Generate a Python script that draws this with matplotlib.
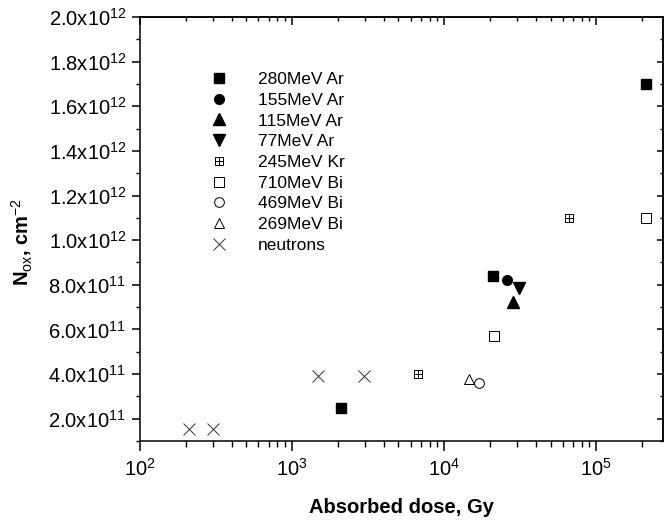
import numpy as np
import matplotlib as mpl
mpl.use("Agg")
import matplotlib.pyplot as plt
from matplotlib.path import Path
from matplotlib.ticker import FixedLocator, MultipleLocator, FuncFormatter, LogLocator, NullFormatter

mpl.rcParams.update({
    'font.family': ['Liberation Sans', 'DejaVu Sans'],
    'mathtext.fontset': 'custom',
    'mathtext.rm': 'Liberation Sans',
    'mathtext.it': 'Liberation Sans:italic',
    'mathtext.bf': 'Liberation Sans:bold',
    'font.size': 12,
})

# data
ar280_x = [2100, 21000, 2.12e5]
ar280_y = [2.5e11, 8.4e11, 1.70e12]
ar155_x = [26000]
ar155_y = [8.2e11]
ar115_x = [28300]
ar115_y = [7.25e11]
ar77_x = [31100]
ar77_y = [7.85e11]
kr245_x = [6700, 66000]
kr245_y = [4.0e11, 1.1e12]
bi710_x = [21200, 2.12e5]
bi710_y = [5.7e11, 1.1e12]
bi469_x = [16800]
bi469_y = [3.6e11]
bi269_x = [14600]
bi269_y = [3.8e11]
neut_x = [210, 300, 1480, 2980]
neut_y = [1.55e11, 1.55e11, 3.9e11, 3.9e11]

y_ticks = [2e11, 4e11, 6e11, 8e11, 1e12, 1.2e12, 1.4e12, 1.6e12, 1.8e12, 2.0e12]

# square with a cross inside
boxplus = Path(
    [(-1, -1), (1, -1), (1, 1), (-1, 1), (-1, -1),
     (-1, 0), (1, 0), (0, -1), (0, 1)],
    [Path.MOVETO, Path.LINETO, Path.LINETO, Path.LINETO, Path.CLOSEPOLY,
     Path.MOVETO, Path.LINETO, Path.MOVETO, Path.LINETO])

fig = plt.figure(figsize=(6.64, 5.2), dpi=100)
ax = fig.add_axes([140 / 664, 79 / 520, 523 / 664, 424 / 520])

k = 'black'
ax.plot(ar280_x, ar280_y, 's', ms=6.5, color=k, ls='none', label='280MeV Ar')
ax.plot(ar155_x, ar155_y, 'o', ms=7, color=k, ls='none', label='155MeV Ar')
ax.plot(ar115_x, ar115_y, '^', ms=8.5, color=k, ls='none', label='115MeV Ar')
ax.plot(ar77_x, ar77_y, 'v', ms=8.5, color=k, ls='none', label='77MeV Ar')
ax.plot(kr245_x, kr245_y, marker=boxplus, ms=6, mfc='none', mec=k, mew=0.7, ls='none', label='245MeV Kr')
ax.plot(bi710_x, bi710_y, 's', ms=6.5, mfc='none', mec=k, mew=0.7, ls='none', label='710MeV Bi')
ax.plot(bi469_x, bi469_y, 'o', ms=7, mfc='none', mec=k, mew=0.7, ls='none', label='469MeV Bi')
ax.plot(bi269_x, bi269_y, '^', ms=7.5, mfc='none', mec=k, mew=0.7, ls='none', label='269MeV Bi')
ax.plot(neut_x, neut_y, 'x', ms=8, color='#333333', mew=0.7, ls='none', label='neutrons')

ax.set_xscale('log')
ax.set_xlim(100, 2.74e5)
ax.set_ylim(1e11, 2e12)

ax.yaxis.set_major_locator(FixedLocator(y_ticks))
ax.yaxis.set_minor_locator(MultipleLocator(1e11))


def yfmt(v, pos):
    e = int(np.floor(np.log10(v)))
    return f"{v / 10**e:.1f}x10$^{{{e}}}$"


ax.yaxis.set_major_formatter(FuncFormatter(yfmt))
ax.xaxis.set_major_locator(LogLocator(base=10, numticks=10))
ax.xaxis.set_minor_locator(LogLocator(base=10, subs=np.arange(2, 10), numticks=20))
ax.xaxis.set_major_formatter(FuncFormatter(lambda v, p: f"10$^{{{int(round(np.log10(v)))}}}$"))
ax.xaxis.set_minor_formatter(NullFormatter())

for s in ax.spines.values():
    s.set_linewidth(1.1)

ax.tick_params(axis='both', which='major', direction='out', width=1.1, labelsize=14.5)
ax.tick_params(axis='y', which='major', length=6, pad=4)
ax.tick_params(axis='y', which='minor', length=3, width=1.0)
ax.tick_params(axis='x', which='major', length=7, pad=5)
ax.tick_params(axis='x', which='minor', length=4, width=1.0)

# mirrored ticks on top and right, pointing inward
top = ax.secondary_xaxis('top')
top.xaxis.set_major_locator(LogLocator(base=10, numticks=10))
top.xaxis.set_minor_locator(LogLocator(base=10, subs=np.arange(2, 10), numticks=20))
top.tick_params(which='major', direction='in', length=6, width=1.1, labeltop=False)
top.tick_params(which='minor', direction='in', length=3, width=1.0)
top.spines['top'].set_linewidth(1.1)

right = ax.secondary_yaxis('right')
right.yaxis.set_major_locator(FixedLocator(y_ticks))
right.yaxis.set_minor_locator(MultipleLocator(1e11))
right.tick_params(which='major', direction='in', length=4, width=1.1, labelright=False)
right.tick_params(which='minor', direction='in', length=2, width=1.0)
right.spines['right'].set_linewidth(1.1)

ax.set_xlabel('Absorbed dose, Gy', fontsize=14.5, fontweight='bold', labelpad=13)
ax.set_ylabel(r'N$_{\mathrm{ox}}$, cm$^{-2}$', fontsize=14.5, fontweight='bold')
ax.yaxis.set_label_coords(-0.2, 0.47)

ax.legend(loc='upper left', bbox_to_anchor=(210 / 664, 1 - 72 / 520),
          bbox_transform=fig.transFigure, frameon=False, fontsize=12.5,
          handlelength=1.0, handletextpad=1.75, labelspacing=0.32,
          borderpad=0, borderaxespad=0)

fig.savefig('out.png', dpi=100)
